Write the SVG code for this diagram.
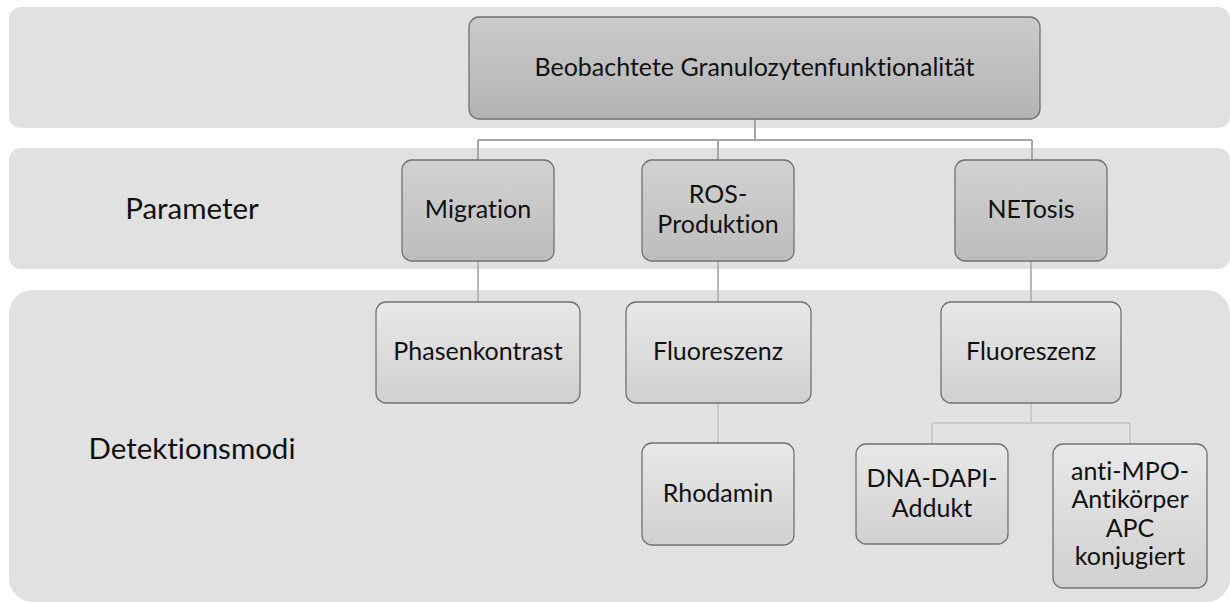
<svg xmlns="http://www.w3.org/2000/svg" width="1230" height="603" viewBox="0 0 1230 603">
<defs>
<linearGradient id="gTop" x1="0" y1="0" x2="0" y2="1"><stop offset="0" stop-color="#cbcbcb"/><stop offset="1" stop-color="#b3b3b3"/></linearGradient>
<linearGradient id="gMid" x1="0" y1="0" x2="0" y2="1"><stop offset="0" stop-color="#d2d2d2"/><stop offset="1" stop-color="#bcbcbc"/></linearGradient>
<linearGradient id="gLow" x1="0" y1="0" x2="0" y2="1"><stop offset="0" stop-color="#e8e8e8"/><stop offset="1" stop-color="#d0d0d0"/></linearGradient>
<style>
.band{fill:#e1e1e1}
.box{stroke:#707070;stroke-width:1.3}
.top{fill:url(#gTop)}
.mid{fill:url(#gMid)}
.low{fill:url(#gLow)}
text{font-family:Lato,"Open Sans","Liberation Sans",sans-serif;font-size:25px;fill:#111;text-anchor:middle;font-variant-ligatures:none}
.lbl{font-size:29.5px}
.c1{stroke:#a6a6a6;stroke-width:2;fill:none}
.c2{stroke:#b6b6b6;stroke-width:2;fill:none}
.c3{stroke:#cacaca;stroke-width:2;fill:none}
</style>
</defs>
<g id="bands">
<rect class="band" x="9" y="7" width="1221" height="121" rx="12"/>
<rect class="band" x="9" y="148" width="1221" height="121" rx="12"/>
<rect class="band" x="9" y="290" width="1221" height="312" rx="24"/>
<text class="lbl" x="192" y="219">Parameter</text>
<text class="lbl" x="192" y="459">Detektionsmodi</text>
</g>
<g id="connectors">
<path class="c1" d="M755 119V140M478 140H1032M478 140V160M718 140V160M1032 140V160"/>
<path class="c2" d="M478 261V302M718 261V302M1031 261V302"/>
<path class="c3" d="M718 403V443M1031 403V423M932 423H1130M932 423V444M1130 423V444"/>
</g>
<g id="n-top">
<rect class="box top" x="469" y="17" width="571" height="102" rx="10"/>
<text x="754.5" y="76">Beobachtete Granulozytenfunktionalität</text>
</g>
<g id="n-migration">
<rect class="box mid" x="402" y="160" width="152" height="101" rx="10"/>
<text x="478" y="218">Migration</text>
</g>
<g id="n-ros">
<rect class="box mid" x="642" y="160" width="152" height="101" rx="10"/>
<text x="718" y="203">ROS-</text>
<text x="718" y="233">Produktion</text>
</g>
<g id="n-netosis">
<rect class="box mid" x="955" y="160" width="152" height="101" rx="10"/>
<text x="1031" y="218">NETosis</text>
</g>
<g id="n-phasen">
<rect class="box low" x="376" y="302" width="204" height="101" rx="10"/>
<text x="478" y="360">Phasenkontrast</text>
</g>
<g id="n-fluo1">
<rect class="box low" x="626" y="302" width="185" height="101" rx="10"/>
<text x="718" y="360">Fluoreszenz</text>
</g>
<g id="n-rhodamin">
<rect class="box low" x="642" y="443" width="152" height="102" rx="10"/>
<text x="718" y="502">Rhodamin</text>
</g>
<g id="n-fluo2">
<rect class="box low" x="941" y="302" width="180" height="101" rx="10"/>
<text x="1031" y="360">Fluoreszenz</text>
</g>
<g id="n-dna">
<rect class="box low" x="856" y="444" width="152" height="100" rx="10"/>
<text x="932" y="487">DNA-DAPI-</text>
<text x="932" y="517">Addukt</text>
</g>
<g id="n-mpo">
<rect class="box low" x="1053" y="444" width="154" height="144" rx="10"/>
<text x="1130" y="480">anti-MPO-</text>
<text x="1130" y="508">Antikörper</text>
<text x="1130" y="537">APC</text>
<text x="1130" y="565">konjugiert</text>
</g>
</svg>
